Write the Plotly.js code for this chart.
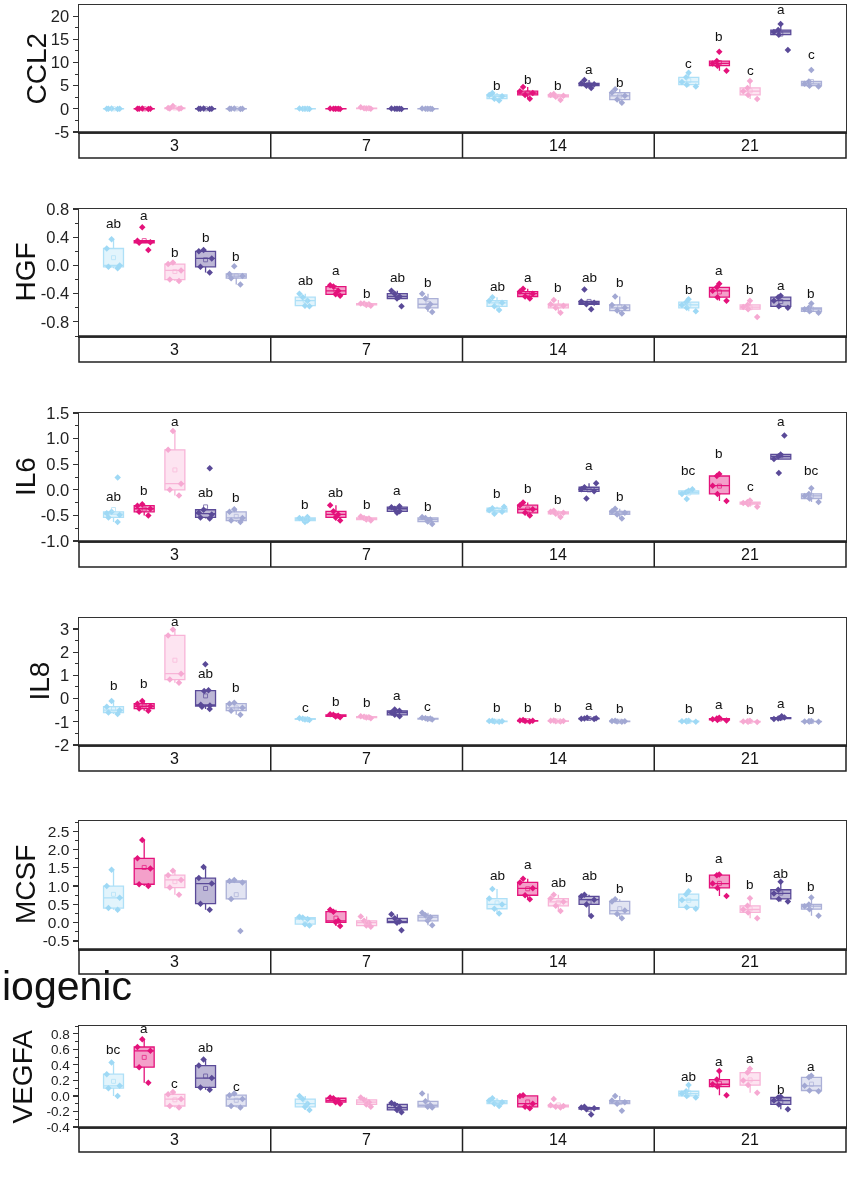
<!DOCTYPE html>
<html><head><meta charset="utf-8">
<script src="https://cdn.plot.ly/plotly-3.0.1.min.js"></script>
<style>html,body{margin:0;padding:0;background:#fff}#chart{width:847px;height:1180px}</style>
</head><body><div id="chart"></div>
<script>
// ---------- DATA ----------
const days = ['3', '7', '14', '21'];
const groups = ['G1', 'G2', 'G3', 'G4', 'G5'];
const genes = ['CCL2', 'HGF', 'IL6', 'IL8', 'MCSF', 'VEGFA'];

// values[day][group] = samples
const ccl2 = [
  [[-0.05,0,0,0.02,0.05],[-0.05,0,0,0.02,0.05],[0,0.05,0.1,0.2,0.6],[-0.05,0,0,0.02,0.05],[-0.05,0,0,0.02,0.05]],
  [[-0.05,0,0,0.02,0.05],[-0.05,0,0,0.02,0.05],[0,0.05,0.1,0.15,0.35],[-0.05,0,0,0.02,0.05],[-0.05,0,0,0.02,0.05]],
  [[1.8,2.2,2.7,3.0,3.4],[2.2,3.0,3.4,3.8,4.7],[1.9,2.6,2.8,3.0,3.2],[4.5,5.0,5.3,5.5,6.2],[1.3,2.0,2.8,3.5,4.2]],
  [[4.8,5.2,5.8,6.8,7.8],[8.2,9.3,9.8,10.3,12.3],[2.1,3.0,3.8,4.5,6.0],[12.7,16.0,16.6,17.0,18.3],[4.8,5.0,5.4,5.9,8.4]]
];
const hgf = [
  [[-0.04,-0.02,0.0,0.24,0.37],[0.22,0.32,0.33,0.35,0.54],[-0.22,-0.2,-0.07,0.02,0.04],[-0.1,-0.02,0.1,0.2,0.22],[-0.27,-0.18,-0.15,-0.12,-0.01]],
  [[-0.58,-0.57,-0.5,-0.45,-0.4],[-0.43,-0.41,-0.36,-0.3,-0.28],[-0.57,-0.56,-0.55,-0.54,-0.54],[-0.58,-0.47,-0.44,-0.4,-0.36],[-0.66,-0.6,-0.55,-0.47,-0.4]],
  [[-0.63,-0.58,-0.53,-0.5,-0.45],[-0.47,-0.44,-0.4,-0.37,-0.33],[-0.67,-0.6,-0.57,-0.55,-0.49],[-0.62,-0.55,-0.53,-0.51,-0.34],[-0.68,-0.64,-0.6,-0.56,-0.44]],
  [[-0.65,-0.6,-0.56,-0.52,-0.48],[-0.5,-0.45,-0.36,-0.31,-0.26],[-0.73,-0.62,-0.59,-0.56,-0.5],[-0.6,-0.58,-0.5,-0.45,-0.43],[-0.67,-0.65,-0.62,-0.6,-0.54]]
];
const il6 = [
  [[-0.63,-0.54,-0.49,-0.46,-0.43,0.24],[-0.5,-0.43,-0.37,-0.31,-0.28],[-0.11,0.0,0.12,0.78,1.15],[-0.56,-0.54,-0.48,-0.45,-0.39,0.42],[-0.63,-0.6,-0.55,-0.43,-0.38]],
  [[-0.63,-0.6,-0.57,-0.55,-0.53],[-0.6,-0.54,-0.48,-0.42,-0.3],[-0.6,-0.58,-0.56,-0.55,-0.52],[-0.45,-0.42,-0.37,-0.34,-0.32],[-0.67,-0.62,-0.58,-0.55,-0.53]],
  [[-0.47,-0.43,-0.4,-0.36,-0.33],[-0.5,-0.45,-0.38,-0.3,-0.25],[-0.53,-0.47,-0.45,-0.43,-0.41],[-0.17,-0.03,0.01,0.05,0.13],[-0.56,-0.48,-0.45,-0.42,-0.37]],
  [[-0.18,-0.08,-0.05,-0.02,0.01],[-0.22,-0.08,0.08,0.27,0.31],[-0.33,-0.28,-0.26,-0.24,-0.21],[0.33,0.6,0.65,0.69,1.06],[-0.24,-0.17,-0.12,-0.08,0.03]]
];
const il8 = [
  [[-0.66,-0.6,-0.5,-0.35,-0.1],[-0.53,-0.43,-0.33,-0.22,-0.1],[0.68,0.82,1.07,2.72,2.97],[-0.45,-0.35,-0.3,-0.27,0.33,0.36,1.48],[-0.7,-0.52,-0.4,-0.22,-0.18]],
  [[-0.92,-0.9,-0.89,-0.87,-0.85],[-0.8,-0.77,-0.74,-0.7,-0.68],[-0.85,-0.82,-0.8,-0.78,-0.76],[-0.76,-0.7,-0.6,-0.53,-0.47],[-0.9,-0.88,-0.86,-0.85,-0.83]],
  [[-1.0,-0.99,-0.98,-0.97,-0.96],[-0.99,-0.97,-0.96,-0.95,-0.92],[-0.99,-0.98,-0.97,-0.96,-0.94],[-0.88,-0.87,-0.86,-0.85,-0.83],[-1.0,-0.99,-0.98,-0.97,-0.96]],
  [[-1.0,-0.99,-0.98,-0.97,-0.96],[-0.95,-0.92,-0.89,-0.86,-0.83],[-1.01,-1.0,-0.99,-0.98,-0.96],[-0.88,-0.86,-0.84,-0.82,-0.76],[-1.0,-0.99,-0.99,-0.98,-0.97]]
];
const mcsf = [
  [[0.35,0.4,0.68,1.0,1.45],[1.0,1.05,1.48,1.76,2.26],[0.76,0.96,1.17,1.3,1.42],[0.35,0.52,1.07,1.22,1.52],[-0.23,0.65,1.1,1.14,1.17]],
  [[-0.08,-0.04,0.1,0.14,0.16],[-0.09,0.01,0.05,0.3,0.35],[-0.11,-0.08,0.0,0.05,0.17],[-0.21,0.0,0.03,0.12,0.23],[-0.07,0.05,0.15,0.2,0.27]],
  [[0.25,0.38,0.5,0.66,0.92],[0.64,0.75,0.94,1.1,1.2],[0.32,0.46,0.57,0.66,0.76],[0.18,0.5,0.63,0.72,0.76],[0.12,0.24,0.33,0.58,0.64]],
  [[0.38,0.42,0.62,0.78,0.86],[0.73,0.95,1.07,1.3,1.32],[0.12,0.28,0.36,0.46,0.67],[0.58,0.65,0.8,0.9,1.12],[0.19,0.37,0.45,0.5,0.69]]
];
const vegfa = [
  [[0.0,0.1,0.13,0.28,0.43],[0.17,0.37,0.58,0.63,0.73],[-0.15,-0.13,-0.04,0.02,0.05],[0.08,0.11,0.23,0.39,0.47],[-0.15,-0.13,-0.04,0.01,0.03]],
  [[-0.18,-0.14,-0.1,-0.04,0.0],[-0.1,-0.08,-0.06,-0.03,-0.02],[-0.14,-0.11,-0.08,-0.05,-0.02],[-0.21,-0.18,-0.15,-0.11,-0.09],[-0.15,-0.14,-0.12,-0.07,0.03]],
  [[-0.13,-0.1,-0.08,-0.06,-0.03],[-0.16,-0.14,-0.1,0.0,0.01],[-0.15,-0.14,-0.13,-0.12,-0.04],[-0.24,-0.17,-0.16,-0.15,-0.14],[-0.19,-0.1,-0.08,-0.06,0.0]],
  [[-0.02,0.0,0.03,0.06,0.14],[0.01,0.12,0.15,0.21,0.32],[0.04,0.14,0.2,0.3,0.35],[-0.17,-0.11,-0.06,-0.02,-0.01],[0.06,0.07,0.13,0.24,0.26]]
];

// significance letters [day][group]
const ccl2Letters  = [['','','','',''],['','','','',''],['b','b','b','a','b'],['c','b','c','a','c']];
const hgfLetters   = [['ab','a','b','b','b'],['ab','a','b','ab','b'],['ab','a','b','ab','b'],['b','a','b','a','b']];
const il6Letters   = [['ab','b','a','ab','b'],['b','ab','b','a','b'],['b','b','b','a','b'],['bc','b','c','a','bc']];
const il8Letters   = [['b','b','a','ab','b'],['c','b','b','a','c'],['b','b','b','a','b'],['b','a','b','a','b']];
const mcsfLetters  = [['','','','',''],['','','','',''],['ab','a','ab','ab','b'],['b','a','b','ab','b']];
const vegfaLetters = [['bc','a','c','ab','c'],['','','','',''],['','','','',''],['ab','a','a','b','a']];

// level (data units) at which each letter sits [day][group]
const ccl2LetterAt  = [[0,0,0,0,0],[0,0,0,0,0],[3.7,4.9,3.6,7.0,4.3],[8.3,14.2,6.9,20.0,10.3]];
const hgfLetterAt   = [[0.50,0.61,0.09,0.31,0.03],[-0.31,-0.17,-0.49,-0.27,-0.33],[-0.39,-0.26,-0.40,-0.27,-0.34],[-0.43,-0.16,-0.43,-0.37,-0.49]];
const il6LetterAt   = [[-0.26,-0.15,1.21,-0.17,-0.27],[-0.42,-0.18,-0.41,-0.15,-0.46],[-0.20,-0.11,-0.31,0.35,-0.26],[0.25,0.58,-0.07,1.20,0.25]];
const il8LetterAt   = [[0.28,0.35,3.05,0.82,0.20],[-0.67,-0.41,-0.45,-0.16,-0.60],[-0.67,-0.67,-0.67,-0.57,-0.70],[-0.70,-0.52,-0.74,-0.49,-0.74]];
const mcsfLetterAt  = [[0,0,0,0,0],[0,0,0,0,0],[1.10,1.42,0.93,1.10,0.75],[1.05,1.58,0.87,1.17,0.82]];
const vegfaLetterAt = [[0.51,0.79,0.07,0.54,0.04],[0,0,0,0,0],[0,0,0,0,0],[0.16,0.36,0.40,0.00,0.30]];

// y tick labels
const ccl2Ticks  = [-5, 0, 5, 10, 15, 20];
const hgfTicks   = [-0.8, -0.4, 0.0, 0.4, 0.8];
const il6Ticks   = [-1.0, -0.5, 0.0, 0.5, 1.0, 1.5];
const il8Ticks   = [-2, -1, 0, 1, 2, 3];
const mcsfTicks  = [-0.5, 0.0, 0.5, 1.0, 1.5, 2.0, 2.5];
const vegfaTicks = [-0.4, -0.2, 0.0, 0.2, 0.4, 0.6, 0.8];

// ---------- STYLE / LAYOUT ----------
const W = 847, H = 1180;
const plotL = 79, plotR = 846;
const panelPx = [[5,132,158],[209,336,362],[413,541,567],[618,745,771],[821,949,974],[1026,1127,1152]];
const titleX = [36, 25, 25, 39, 25, 22];
const tickSize = [16.5, 16.5, 16.5, 16.5, 15.5, 13.5];
const panels = [
  {vals: ccl2,  letters: ccl2Letters,  at: ccl2LetterAt,  ticks: ccl2Ticks,  range: [-5, 22.4],   minor: 2.5,  dec: 0},
  {vals: hgf,   letters: hgfLetters,   at: hgfLetterAt,   ticks: hgfTicks,   range: [-1.0, 0.8],  minor: 0.2,  dec: 1},
  {vals: il6,   letters: il6Letters,   at: il6LetterAt,   ticks: il6Ticks,   range: [-1.0, 1.5],  minor: 0.25, dec: 1},
  {vals: il8,   letters: il8Letters,   at: il8LetterAt,   ticks: il8Ticks,   range: [-2, 3.47],   minor: 0.5,  dec: 0},
  {vals: mcsf,  letters: mcsfLetters,  at: mcsfLetterAt,  ticks: mcsfTicks,  range: [-0.72, 2.78],minor: 0.25, dec: 1},
  {vals: vegfa, letters: vegfaLetters, at: vegfaLetterAt, ticks: vegfaTicks, range: [-0.4, 0.9],  minor: 0.1,  dec: 1}
];
const offsets = [-0.32, -0.16, 0, 0.16, 0.32];
const boxW = 0.104;
const lineCol = ['#aee0f7', '#e4127b', '#f8b4d7', '#5a4a98', '#abb0d7'];
const fillCol = ['#e2f4fc', 'rgba(228,18,123,0.4)', '#fde4f1', 'rgba(90,74,152,0.4)', '#e2e4f2'];
const markCol = ['#9fd9f5', '#e4127b', '#f6a9d2', '#5a4a98', '#a2a8d3'];
const FONT = 'Arial, "Liberation Sans", sans-serif';
const frameCol = '#333';

const data = [], annotations = [], shapes = [];
const layout = {
  width: W, height: H, margin: {l:0, r:0, t:0, b:0},
  paper_bgcolor: '#fff', plot_bgcolor: '#fff', showlegend: false, boxmode: 'overlay',
  font: {family: FONT, color: '#222'}
};

panels.forEach((pn, p) => {
  const n = p + 1, sfx = n > 1 ? String(n) : '';
  const xa = 'x' + sfx, ya = 'y' + sfx;
  const [top, bot, sb] = panelPx[p];
  const minors = [];
  for (let k = Math.ceil(pn.range[0] / pn.minor - 1e-9); k * pn.minor <= pn.range[1] + 1e-9; k++) {
    const v = +(k * pn.minor).toFixed(4);
    if (!pn.ticks.some(t => Math.abs(t - v) < 1e-6)) minors.push(v);
  }
  layout['xaxis' + sfx] = {
    domain: [plotL / W, plotR / W], range: [-0.5, 3.5], anchor: ya,
    showline: true, mirror: true, linecolor: frameCol, linewidth: 1.5,
    ticks: '', showticklabels: false, showgrid: false, zeroline: false, fixedrange: true
  };
  layout['yaxis' + sfx] = {
    domain: [1 - bot / H, 1 - top / H], range: pn.range, anchor: xa,
    showline: true, mirror: true, linecolor: frameCol, linewidth: 1.5,
    ticks: 'outside', ticklen: 5, tickwidth: 1.2, tickcolor: frameCol,
    tickmode: 'array', tickvals: pn.ticks, ticktext: pn.ticks.map(v => v.toFixed(pn.dec)),
    tickfont: {size: tickSize[p], color: '#222', family: FONT},
    showgrid: false, zeroline: false, fixedrange: true,
    minor: {tickmode: 'array', tickvals: minors, ticks: 'outside', ticklen: 3, tickwidth: 1, tickcolor: frameCol}
  };

  groups.forEach((g, gi) => {
    const xs = [], ys = [], mx = [], my = [];
    days.forEach((d, di) => {
      const s = pn.vals[di][gi];
      s.forEach(v => { xs.push(di + offsets[gi]); ys.push(v); });
      mx.push(di + offsets[gi]);
      my.push(s.reduce((a, b) => a + b, 0) / s.length);
    });
    data.push({
      type: 'box', name: g, x: xs, y: ys, xaxis: xa, yaxis: ya,
      width: boxW, boxpoints: 'all', jitter: 0.8, pointpos: 0,
      quartilemethod: 'inclusive', whiskerwidth: 0,
      fillcolor: fillCol[gi], line: {color: lineCol[gi], width: 1.3},
      marker: {color: markCol[gi], symbol: 'diamond', size: 5},
      hoverinfo: 'skip'
    });
    data.push({
      type: 'scatter', mode: 'markers', x: mx, y: my, xaxis: xa, yaxis: ya,
      marker: {symbol: 'square-open', size: 4, color: lineCol[gi], line: {width: 1}},
      opacity: 0.7, hoverinfo: 'skip'
    });
    days.forEach((d, di) => {
      const t = pn.letters[di][gi];
      if (!t) return;
      annotations.push({
        xref: xa, yref: ya, x: di + offsets[gi], y: pn.at[di][gi],
        yanchor: 'bottom', yshift: -3, text: t, showarrow: false,
        font: {size: 13.5, color: '#111', family: FONT}
      });
    });
  });

  // category strip
  shapes.push({type: 'rect', xref: 'paper', yref: 'paper', x0: plotL / W, x1: plotR / W,
    y0: 1 - sb / H, y1: 1 - bot / H, line: {color: '#222', width: 1.5}, fillcolor: 'rgba(0,0,0,0)'});
  [0.5, 1.5, 2.5].forEach(xv => shapes.push({type: 'line', xref: xa, yref: 'paper',
    x0: xv, x1: xv, y0: 1 - sb / H, y1: 1 - bot / H, line: {color: '#222', width: 1.5}}));
  days.forEach((d, di) => annotations.push({
    xref: xa, yref: 'paper', x: di, y: 1 - (bot + sb) / 2 / H, yanchor: 'middle',
    text: d, showarrow: false, font: {size: 16, color: '#111', family: FONT}
  }));
  // y title
  annotations.push({
    xref: 'paper', yref: 'paper', x: titleX[p] / W, y: 1 - (top + bot) / 2 / H,
    xanchor: 'center', yanchor: 'middle', textangle: -90, text: genes[p], showarrow: false,
    font: {size: 28, color: '#111', family: FONT}
  });
});

annotations.push({
  xref: 'paper', yref: 'paper', x: 0, xanchor: 'left', y: 1 - 986 / H, yanchor: 'middle',
  text: 'iogenic', showarrow: false, font: {size: 41, color: '#111', family: FONT}
});

layout.annotations = annotations;
layout.shapes = shapes;
Plotly.newPlot('chart', data, layout, {staticPlot: true, displayModeBar: false});
</script>
</body></html>
